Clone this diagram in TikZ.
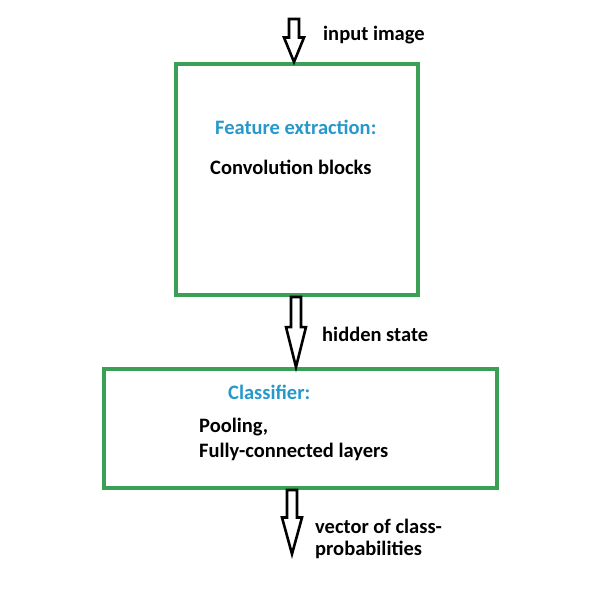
\documentclass[tikz,border=0pt]{standalone}
\usepackage{fontspec}
\setmainfont{Carlito}
\usepackage{tikz}
\usetikzlibrary{positioning,calc}
\definecolor{cnngreen}{RGB}{58,160,86}
\definecolor{cnnblue}{RGB}{38,152,204}
\tikzset{
  stagebox/.style={rectangle, draw=cnngreen, line width=4pt, inner sep=0pt},
  lbl/.style={anchor=base west, inner sep=0pt, font=\fontsize{20.5}{25}\selectfont\bfseries, align=left},
  blockarrow/.style={draw=black, fill=white, line width=2.6pt, line join=miter,
    to path={let \p1=(\tikztostart), \p2=(\tikztotarget), \n1={0.57*(\y1-\y2)} in
      (\x1-5pt,\y1) -- (\x1-5pt,\y2+\n1) -- (\x1-10pt,\y2+\n1) -- (\x2,\y2)
      -- (\x1+10pt,\y2+\n1) -- (\x1+5pt,\y2+\n1) -- (\x1+5pt,\y1) -- cycle}}
}

\begin{document}
\begin{tikzpicture}[x=1pt, y=1pt]
\useasboundingbox (0,0) rectangle (597,589);
% the two stages
\node[stagebox, minimum width=242pt, minimum height=231pt] (feat) at (297,409.5) {};
\node[stagebox, minimum width=393pt, minimum height=119pt] (cls) at (300.5,160.5) {};
\coordinate (in) at (294,570);
\coordinate (out) at (292,35);
% block arrows
\draw[blockarrow] (in) to (in |- feat.north);
\draw[blockarrow] ([xshift=-1pt]feat.south) to ([xshift=-1pt]feat.south |- cls.north);
\draw[blockarrow] (cls.south -| out) to (out);
% texts (base = last line)
\node[lbl] (inlbl) at (323,548.5) {input image};
\node[lbl, text=cnnblue] (feattitle) at (215,454) {Feature extraction:};
\node[lbl] (featbody) at (210,414.5) {Convolution blocks};
\node[lbl] (hidlbl) at (322,247.5) {hidden state};
\node[lbl, text=cnnblue] (clstitle) at (228,189) {Classifier:};
\node[lbl] (clsbody) at (199,131) {Pooling,\\Fully-connected layers};
\node[lbl, font=\fontsize{20.5}{21.6}\selectfont\bfseries] (outlbl) at (315,33.5) {vector of class-\\probabilities};
\end{tikzpicture}
\end{document}
